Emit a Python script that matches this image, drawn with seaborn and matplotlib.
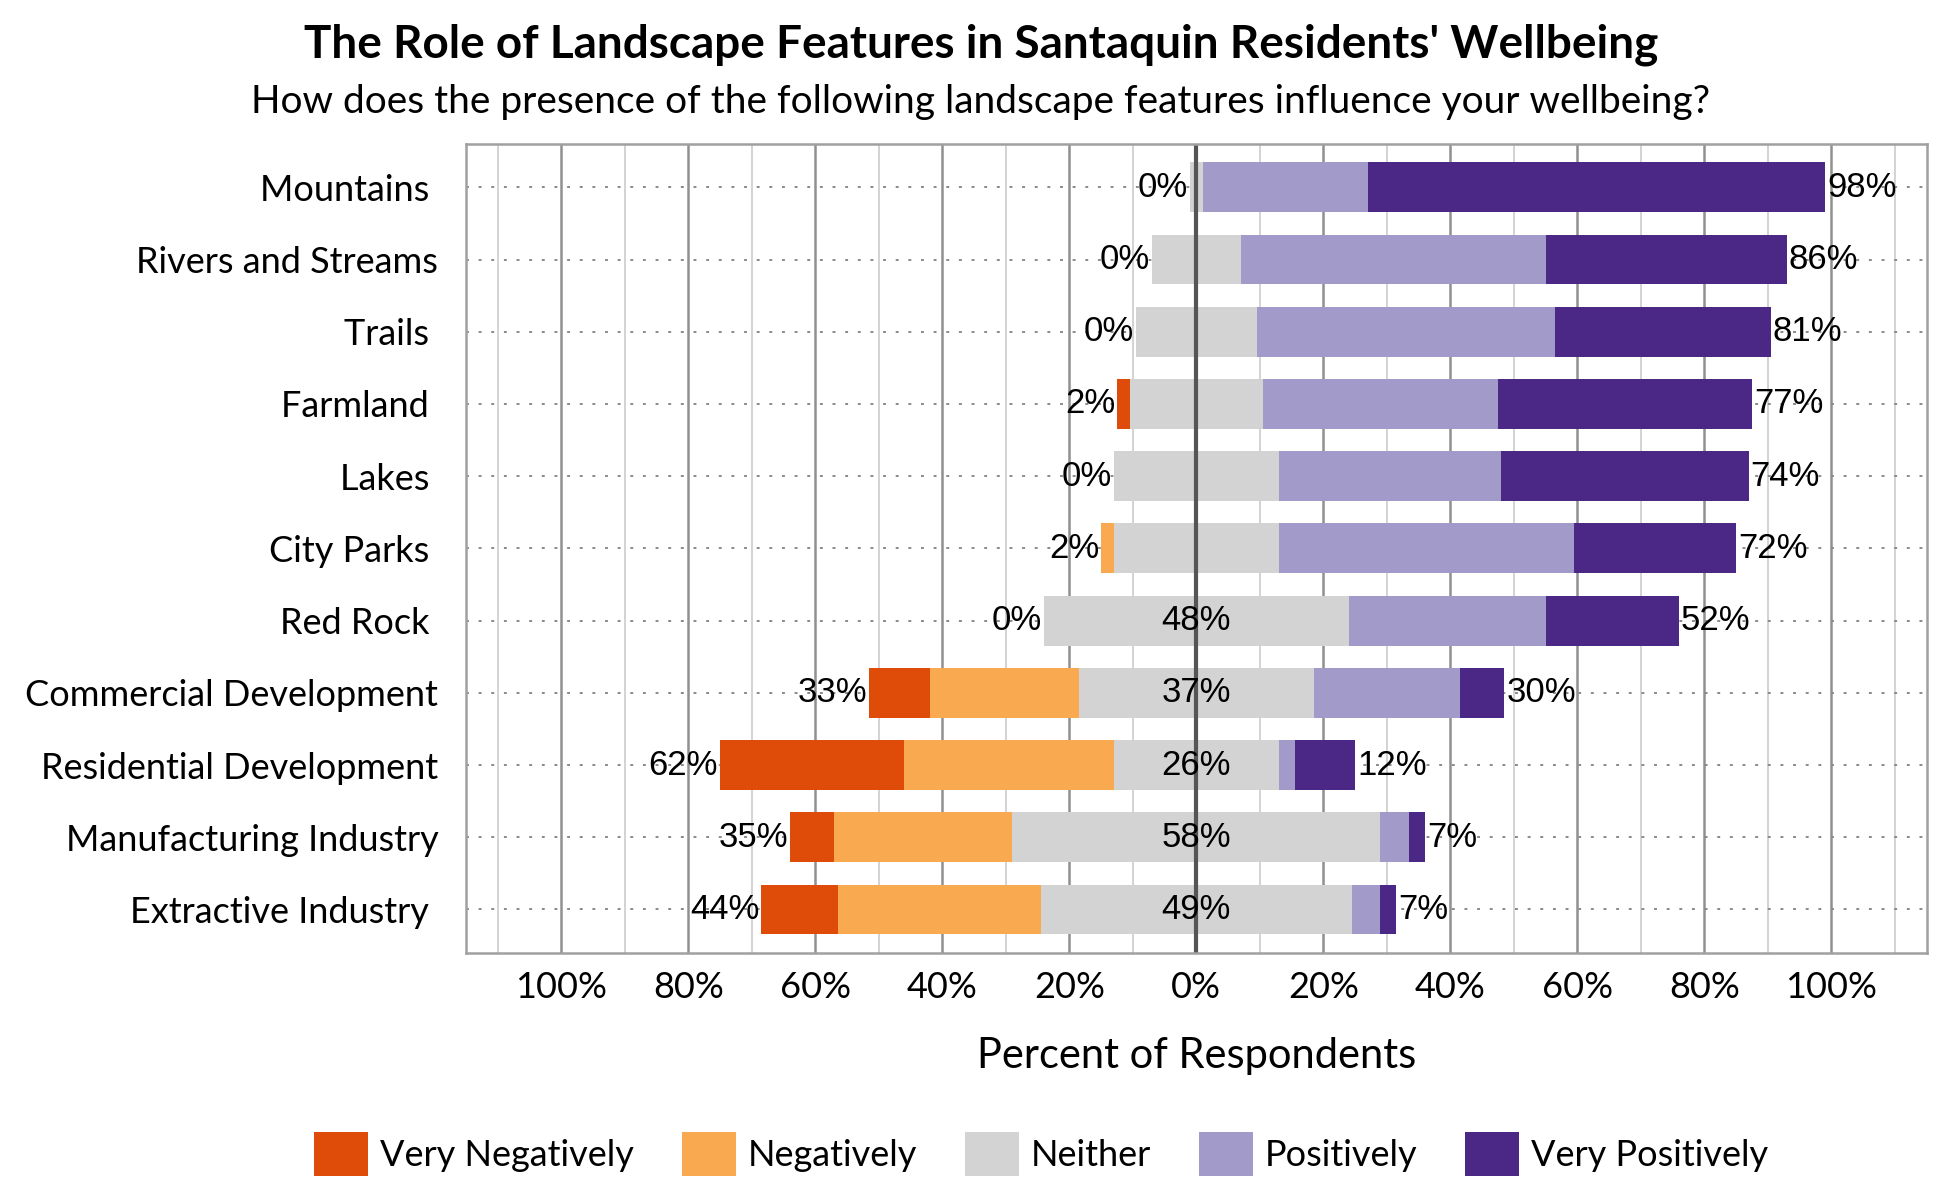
import pandas as pd
import matplotlib
matplotlib.use('Agg')
import matplotlib.pyplot as plt
import seaborn as sns
from matplotlib.patches import Patch
from matplotlib.ticker import MultipleLocator, FixedLocator

# survey data (percent of respondents)
categories = ["Mountains ", "Rivers and Streams", "Trails ", "Farmland ", "Lakes ",
              "City Parks ", "Red Rock ", "Commercial Development",
              "Residential Development", "Manufacturing Industry", "Extractive Industry "]
very_neg = [0, 0, 0, 2, 0, 0, 0, 9.5, 29, 7, 12]
neg = [0, 0, 0, 0, 0, 2, 0, 23.5, 33, 28, 32]
neither = [2, 14, 19, 21, 26, 26, 48, 37, 26, 58, 49]
pos = [26, 48, 47, 37, 35, 46.5, 31, 23, 2.5, 4.5, 4.5]
very_pos = [72, 38, 34, 40, 39, 25.5, 21, 7, 9.5, 2.5, 2.5]
show_neither = [False, False, False, False, False, False, True, True, True, True, True]

levels = ["Very Negatively", "Negatively", "Neither", "Positively", "Very Positively"]
colors = ["#df4c0a", "#f9a94f", "#d3d3d3", "#a29ac8", "#4b2886"]

df = pd.DataFrame({'cat': categories, 'vn': very_neg, 'n': neg, 'ne': neither,
                   'p': pos, 'vp': very_pos})
half = df['ne'] / 2
# cumulative ends on each side of zero
df['r_ne'] = half
df['r_p'] = half + df['p']
df['r_vp'] = half + df['p'] + df['vp']
df['l_ne'] = -half
df['l_n'] = -half - df['n']
df['l_vn'] = -half - df['n'] - df['vn']

sns.set_theme(style='white')
plt.rcParams['font.family'] = ['Lato', 'DejaVu Sans']
plt.rcParams['text.color'] = 'black'
plt.rcParams['xtick.color'] = 'black'
plt.rcParams['ytick.color'] = 'black'
plt.rcParams['axes.labelcolor'] = 'black'

fig, ax = plt.subplots(figsize=(19.5, 12), dpi=100)
fig.subplots_adjust(left=0.239, right=0.988, top=0.880, bottom=0.206)

# vertical grid
ax.set_axisbelow(True)
ax.xaxis.set_major_locator(MultipleLocator(20))
ax.xaxis.set_minor_locator(MultipleLocator(10))
ax.grid(axis='x', which='major', color='#909090', linewidth=1.8)
ax.grid(axis='x', which='minor', color='#d0d0d0', linewidth=1.3)

# dotted guide line for every category
ax.hlines(range(len(categories)), -115, 115, colors='#8a8a8a',
          linestyles=(0, (1.5, 5)), linewidth=1.4, zorder=0.8)

# layered bars, longest first so the shorter ones sit on top
layers = [('r_vp', colors[4]), ('r_p', colors[3]), ('r_ne', colors[2]),
          ('l_vn', colors[0]), ('l_n', colors[1]), ('l_ne', colors[2])]
for col, c in layers:
    sns.barplot(data=df, x=col, y='cat', orient='h', color=c, width=0.69,
                linewidth=0, saturation=1, ax=ax)

ax.axvline(0, color='#555555', linewidth=3, zorder=1.5)

# value labels
for i, row in df.iterrows():
    left_total = row['vn'] + row['n']
    right_total = row['p'] + row['vp']
    ax.text(row['l_vn'] - 0.3, i, f"{left_total:.0f}%", ha='right', va='center',
            fontsize=25, family='Liberation Sans', color='black')
    ax.text(row['r_vp'] + 0.3, i, f"{right_total:.0f}%", ha='left', va='center',
            fontsize=25, family='Liberation Sans', color='black')
    if show_neither[i]:
        ax.text(0, i, f"{row['ne']:.0f}%", ha='center', va='center',
                fontsize=25, family='Liberation Sans', color='black')

ax.set_xlim(-115, 115)
ax.set_ylim(len(categories) - 0.4, -0.6)
ticks = list(range(-100, 101, 20))
ax.xaxis.set_major_locator(FixedLocator(ticks))
ax.set_xticklabels([f"{abs(t)}%" for t in ticks])
ax.tick_params(axis='x', labelsize=26, length=0, pad=13)
ax.tick_params(axis='y', labelsize=26, length=0, pad=20)
ax.set_ylabel('')
ax.set_xlabel('Percent of Respondents', fontsize=30, labelpad=24)

for s in ax.spines.values():
    s.set_color('#a0a0a0')
    s.set_linewidth(1.8)

fig.text(0.503, 0.963, "The Role of Landscape Features in Santaquin Residents' Wellbeing",
         ha='center', va='center', fontsize=33, fontweight='bold')
fig.text(0.503, 0.915, "How does the presence of the following landscape features influence your wellbeing?",
         ha='center', va='center', fontsize=28)

handles = [Patch(facecolor=c, edgecolor='none') for c in colors]
fig.legend(handles, levels, loc='center', bbox_to_anchor=(0.534, 0.038), ncol=5,
           frameon=False, fontsize=26, handlelength=1.5, handleheight=1.5,
           columnspacing=1.32, handletextpad=0.33)

plt.savefig('out.png', dpi=100)
